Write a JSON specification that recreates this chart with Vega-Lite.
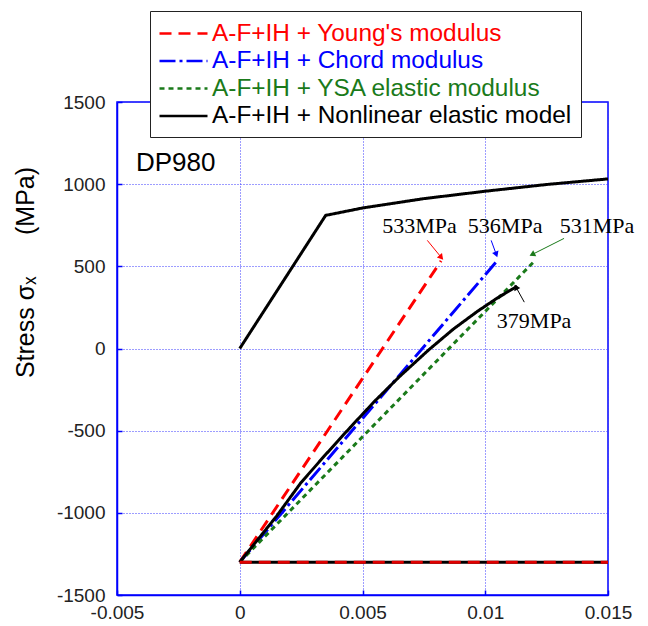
{
  "$schema": "https://vega.github.io/schema/vega-lite/v6.json",
  "width": 491,
  "height": 493,
  "autosize": {"type": "none"},
  "padding": {"left": 117, "top": 102, "right": 40, "bottom": 31},
  "background": "white",
  "config": {
    "view": {"stroke": "#0000ff", "strokeWidth": 1.5},
    "axis": {
      "domainColor": "#0000ff",
      "domainWidth": 1.5,
      "gridColor": "#3a3aff",
      "gridDash": [1, 2],
      "gridWidth": 1,
      "tickColor": "#0000ff",
      "tickWidth": 1.5,
      "labelFont": "Liberation Sans",
      "labelFontSize": 19,
      "labelColor": "#222222",
      "titleFont": "Liberation Sans"
    }
  },
  "datasets": {
    "lines": [
      {"s": "A-F+IH + Young's modulus", "seg": "U", "i": 0, "x": 0, "y": -1300},
      {"s": "A-F+IH + Young's modulus", "seg": "U", "i": 1, "x": 0.0082, "y": 533},
      {"s": "A-F+IH + Chord modulus", "seg": "U", "i": 0, "x": 0, "y": -1300},
      {"s": "A-F+IH + Chord modulus", "seg": "U", "i": 1, "x": 0.0105, "y": 536},
      {"s": "A-F+IH + YSA elastic modulus", "seg": "U", "i": 0, "x": 0, "y": -1300},
      {"s": "A-F+IH + YSA elastic modulus", "seg": "U", "i": 1, "x": 0.012, "y": 531},
      {"s": "A-F+IH + Nonlinear elastic model", "seg": "L", "i": 0, "x": 0, "y": 0},
      {"s": "A-F+IH + Nonlinear elastic model", "seg": "L", "i": 1, "x": 0.0035, "y": 810},
      {"s": "A-F+IH + Nonlinear elastic model", "seg": "L", "i": 2, "x": 0.005, "y": 855},
      {"s": "A-F+IH + Nonlinear elastic model", "seg": "L", "i": 3, "x": 0.0075, "y": 912},
      {"s": "A-F+IH + Nonlinear elastic model", "seg": "L", "i": 4, "x": 0.01, "y": 957},
      {"s": "A-F+IH + Nonlinear elastic model", "seg": "L", "i": 5, "x": 0.0125, "y": 998},
      {"s": "A-F+IH + Nonlinear elastic model", "seg": "L", "i": 6, "x": 0.015, "y": 1032},
      {"s": "A-F+IH + Nonlinear elastic model", "seg": "H", "i": 0, "x": 0, "y": -1300},
      {"s": "A-F+IH + Nonlinear elastic model", "seg": "H", "i": 1, "x": 0.015, "y": -1300},
      {"s": "A-F+IH + Nonlinear elastic model", "seg": "U", "i": 0, "x": 0, "y": -1300},
      {"s": "A-F+IH + Nonlinear elastic model", "seg": "U", "i": 1, "x": 0.0015, "y": -1020},
      {"s": "A-F+IH + Nonlinear elastic model", "seg": "U", "i": 2, "x": 0.0025, "y": -815},
      {"s": "A-F+IH + Nonlinear elastic model", "seg": "U", "i": 3, "x": 0.0035, "y": -645},
      {"s": "A-F+IH + Nonlinear elastic model", "seg": "U", "i": 4, "x": 0.0045, "y": -480},
      {"s": "A-F+IH + Nonlinear elastic model", "seg": "U", "i": 5, "x": 0.0055, "y": -320},
      {"s": "A-F+IH + Nonlinear elastic model", "seg": "U", "i": 6, "x": 0.0065, "y": -172},
      {"s": "A-F+IH + Nonlinear elastic model", "seg": "U", "i": 7, "x": 0.0077, "y": -8},
      {"s": "A-F+IH + Nonlinear elastic model", "seg": "U", "i": 8, "x": 0.0087, "y": 118},
      {"s": "A-F+IH + Nonlinear elastic model", "seg": "U", "i": 9, "x": 0.0097, "y": 228},
      {"s": "A-F+IH + Nonlinear elastic model", "seg": "U", "i": 10, "x": 0.0105, "y": 308},
      {"s": "A-F+IH + Nonlinear elastic model", "seg": "U", "i": 11, "x": 0.0113, "y": 379}
    ],
    "base": [
      {"x": 0, "y": -1300},
      {"x": 0.015, "y": -1300}
    ],
    "notes": [
      {"s": "A-F+IH + Young's modulus", "label": "533MPa", "tx": 0.00732, "ty": 745, "ax": 0.00764, "ay": 658, "bx": 0.00821, "by": 554},
      {"s": "A-F+IH + Chord modulus", "label": "536MPa", "tx": 0.01081, "ty": 745, "ax": 0.01024, "ay": 658, "bx": 0.01045, "by": 572},
      {"s": "A-F+IH + YSA elastic modulus", "label": "531MPa", "tx": 0.01455, "ty": 748, "ax": 0.01321, "ay": 670, "bx": 0.01191, "by": 572},
      {"s": "A-F+IH + Nonlinear elastic model", "label": "379MPa", "tx": 0.01199, "ty": 167, "ax": 0.01159, "ay": 282, "bx": 0.01125, "by": 374}
    ],
    "tag": [
      {"x": -0.00423, "y": 1082, "t": "DP980"}
    ]
  },
  "layer": [
    {
      "data": {"name": "lines"},
      "mark": {"type": "line", "strokeWidth": 3, "clip": true},
      "encoding": {
        "x": {
          "field": "x", "type": "quantitative",
          "scale": {"domain": [-0.005, 0.015], "nice": false, "zero": false},
          "axis": {
            "title": null,
            "values": [-0.005, 0, 0.005, 0.01, 0.015],
            "labelExpr": "'' + datum.value",
            "labelPadding": 13,
            "tickSize": -5,
            "labelFlush": false
          }
        },
        "y": {
          "field": "y", "type": "quantitative",
          "scale": {"domain": [-1500, 1500], "nice": false, "zero": false},
          "axis": {
            "title": "Stress σₓ\u00a0\u00a0\u00a0\u00a0\u00a0\u00a0(MPa)",
            "titleFontSize": 25,
            "titleFontWeight": "normal",
            "titleColor": "#000000",
            "titleX": -92,
            "titleY": 170,
            "titleBaseline": "middle",
            "values": [-1500, -1000, -500, 0, 500, 1000, 1500],
            "labelExpr": "'' + datum.value",
            "labelPadding": 17,
            "tickSize": -5,
            "labelFlush": false
          }
        },
        "color": {
          "field": "s", "type": "nominal",
          "scale": {
            "domain": ["A-F+IH + Young's modulus", "A-F+IH + Chord modulus", "A-F+IH + YSA elastic modulus", "A-F+IH + Nonlinear elastic model"],
            "range": ["#ff0000", "#0000ff", "#1a7a1a", "#000000"]
          },
          "legend": {
            "title": null,
            "orient": "none",
            "legendX": 33,
            "legendY": -91,
            "symbolType": "M-2,0H2",
            "symbolSize": 576,
            "symbolStrokeWidth": 2.5,
            "symbolOffset": 11,
            "labelFont": "Liberation Sans",
            "labelFontSize": 24.4,
            "labelLimit": 500,
            "labelOffset": 15,
            "rowPadding": 2.5,
            "padding": 9,
            "strokeColor": "#222222",
            "fillColor": "white",
            "cornerRadius": 0,
            "encode": {
              "labels": {"update": {"fill": {"scale": "color", "field": "value"}}}
            }
          }
        },
        "strokeDash": {
          "field": "s", "type": "nominal",
          "scale": {
            "domain": ["A-F+IH + Young's modulus", "A-F+IH + Chord modulus", "A-F+IH + YSA elastic modulus", "A-F+IH + Nonlinear elastic model"],
            "range": [[12, 7], [16, 4, 3, 4], [5, 4], [1, 0]]
          },
          "legend": null
        },
        "detail": {"field": "seg"},
        "order": {"field": "i", "type": "quantitative"}
      }
    },
    {
      "data": {"name": "base"},
      "mark": {"type": "line", "color": "#e00000", "strokeWidth": 3, "strokeDash": [12, 7]},
      "encoding": {
        "x": {"field": "x", "type": "quantitative"},
        "y": {"field": "y", "type": "quantitative"}
      }
    },
    {
      "data": {"name": "notes"},
      "mark": {"type": "rule", "strokeWidth": 1},
      "encoding": {
        "x": {"field": "ax", "type": "quantitative"},
        "y": {"field": "ay", "type": "quantitative"},
        "x2": {"field": "bx"},
        "y2": {"field": "by"},
        "color": {"field": "s", "type": "nominal", "legend": null}
      }
    },
    {
      "data": {"name": "notes"},
      "transform": [{"filter": {"field": "label", "equal": "533MPa"}}],
      "mark": {"type": "point", "shape": "triangle-up", "filled": true, "opacity": 1, "size": 45, "angle": 140},
      "encoding": {
        "x": {"field": "bx", "type": "quantitative"},
        "y": {"field": "by", "type": "quantitative"},
        "color": {"field": "s", "type": "nominal", "legend": null}
      }
    },
    {
      "data": {"name": "notes"},
      "transform": [{"filter": {"field": "label", "equal": "536MPa"}}],
      "mark": {"type": "point", "shape": "triangle-up", "filled": true, "opacity": 1, "size": 45, "angle": 160},
      "encoding": {
        "x": {"field": "bx", "type": "quantitative"},
        "y": {"field": "by", "type": "quantitative"},
        "color": {"field": "s", "type": "nominal", "legend": null}
      }
    },
    {
      "data": {"name": "notes"},
      "transform": [{"filter": {"field": "label", "equal": "531MPa"}}],
      "mark": {"type": "point", "shape": "triangle-up", "filled": true, "opacity": 1, "size": 45, "angle": 243},
      "encoding": {
        "x": {"field": "bx", "type": "quantitative"},
        "y": {"field": "by", "type": "quantitative"},
        "color": {"field": "s", "type": "nominal", "legend": null}
      }
    },
    {
      "data": {"name": "notes"},
      "transform": [{"filter": {"field": "label", "equal": "379MPa"}}],
      "mark": {"type": "point", "shape": "triangle-up", "filled": true, "opacity": 1, "size": 45, "angle": 332},
      "encoding": {
        "x": {"field": "bx", "type": "quantitative"},
        "y": {"field": "by", "type": "quantitative"},
        "color": {"field": "s", "type": "nominal", "legend": null}
      }
    },
    {
      "data": {"name": "notes"},
      "mark": {"type": "text", "font": "Liberation Serif", "fontSize": 22, "align": "center", "baseline": "middle", "color": "#000000"},
      "encoding": {
        "x": {"field": "tx", "type": "quantitative"},
        "y": {"field": "ty", "type": "quantitative"},
        "text": {"field": "label"}
      }
    },
    {
      "data": {"name": "tag"},
      "mark": {"type": "text", "font": "Liberation Sans", "fontSize": 26, "align": "left", "baseline": "alphabetic", "color": "#000000"},
      "encoding": {
        "x": {"field": "x", "type": "quantitative"},
        "y": {"field": "y", "type": "quantitative"},
        "text": {"field": "t"}
      }
    }
  ]
}
